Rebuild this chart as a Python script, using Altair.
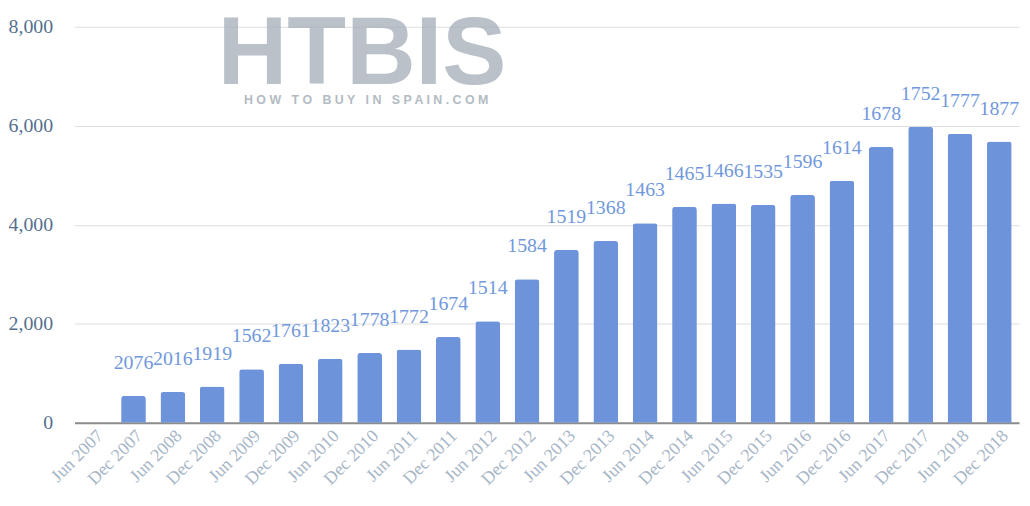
import altair as alt
import pandas as pd

periods = ["Jun 2007", "Dec 2007", "Jun 2008", "Dec 2008", "Jun 2009", "Dec 2009",
           "Jun 2010", "Dec 2010", "Jun 2011", "Dec 2011", "Jun 2012", "Dec 2012",
           "Jun 2013", "Dec 2013", "Jun 2014", "Dec 2014", "Jun 2015", "Dec 2015",
           "Jun 2016", "Dec 2016", "Jun 2017", "Dec 2017", "Jun 2018", "Dec 2018"]
bar_periods = periods[1:]
bar_values = [540, 620, 730, 1080, 1190, 1290, 1410, 1480, 1730, 2050, 2900, 3490,
              3670, 4030, 4360, 4430, 4400, 4600, 4890, 5570, 5980, 5840, 5680]
label_values = ["2076", "2016", "1919", "1562", "1761", "1823", "1778", "1772", "1674",
                "1514", "1584", "1519", "1368", "1463", "1465", "1466", "1535", "1596",
                "1614", "1678", "1752", "1777", "1877"]
y_ticks = [0, 2000, 4000, 6000, 8000]
wm_title = ["HTBIS"]
wm_words = ["HOW", "TO", "BUY", "IN", "SPAIN.COM"]
wm_sub = ["\u00a0\u00a0\u00a0".join(" ".join(w) for w in wm_words)]

df = pd.DataFrame({"period": bar_periods, "value": bar_values, "label": label_values})

x_enc = alt.X(
    "period:N",
    sort=periods,
    scale=alt.Scale(domain=periods, range=[8, 960], paddingInner=0.37, paddingOuter=0.185),
    axis=alt.Axis(title=None, labelAngle=-45, labelFont="Liberation Serif",
                  labelFontSize=18, labelColor="#a7b6c7", ticks=False,
                  domainColor="#8c8c8c", domainWidth=2, labelPadding=4, grid=False),
)
y_enc = alt.Y(
    "value:Q",
    scale=alt.Scale(domain=[0, 8000]),
    axis=alt.Axis(title=None, values=y_ticks, format=",.0f", labelFont="Liberation Serif",
                  labelFontSize=20, labelColor="#55708f", ticks=False, domain=False,
                  gridColor="#dedede", labelPadding=14),
)

base = alt.Chart(df).encode(x=x_enc, y=y_enc)

bars = base.mark_bar(color="#6d94db", cornerRadiusTopLeft=3, cornerRadiusTopRight=3)
labels = base.mark_text(baseline="middle", dy=-33, font="Liberation Serif",
                        fontSize=20, color="#7198dc").encode(text="label:N")

wm1 = alt.Chart(pd.DataFrame({"t": wm_title})).mark_text(
    font="Liberation Sans", fontWeight="bold", fontSize=97, color="#a3adb8",
    opacity=0.75, align="center", baseline="alphabetic",
).encode(x=alt.value(298), y=alt.value(58), text="t:N")

wm2 = alt.Chart(pd.DataFrame({"t": wm_sub})).mark_text(
    font="Liberation Sans", fontWeight="bold", fontSize=12.5, color="#b3bbc3",
    align="center", baseline="alphabetic",
).encode(x=alt.value(302), y=alt.value(78), text="t:N")

chart = alt.layer(wm1, wm2, bars, labels).properties(
    width=963, height=399,
    autosize=alt.AutoSizeParams(type="none"),
    padding={"left": 59, "top": 17, "right": 0, "bottom": 82},
).configure_view(stroke=None)

chart.save("out.html", embed_options={"renderer": "svg", "actions": False})
